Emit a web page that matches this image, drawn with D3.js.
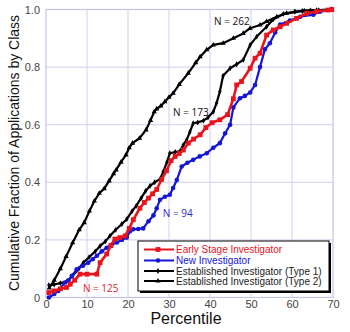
<!DOCTYPE html>
<html><head><meta charset="utf-8">
<script src="https://cdn.jsdelivr.net/npm/d3@7"></script>
<style>body{margin:0;background:#fff}svg{display:block}</style>
</head><body>
<svg id="c" width="350" height="332"></svg>
<script>
const xTicks = [0,10,20,30,40,50,60,70];
const yTicks = [0,0.2,0.4,0.6,0.8,1.0];
const seriesNames = ["Early Stage Investigator","New Investigator","Established Investigator (Type 1)","Established Investigator (Type 2)"];
const seriesN = ["N = 125","N = 94","N = 173","N = 262"];
const esi = [[0.7,0.017],[2,0.023],[3.5,0.03],[5,0.035],[5.9,0.046],[7,0.06],[8.3,0.081],[10,0.081],[12.4,0.081],[13.2,0.121],[14.8,0.151],[15.8,0.18],[16.8,0.203],[18,0.208],[19.3,0.214],[20.3,0.24],[21.3,0.27],[22.9,0.31],[24,0.33],[25,0.345],[26,0.36],[27,0.375],[28.2,0.41],[29.4,0.44],[30.5,0.475],[31.5,0.49],[32.5,0.5],[33.5,0.512],[34.7,0.536],[36,0.55],[37.6,0.565],[39,0.59],[40.5,0.607],[42.4,0.617],[44.3,0.635],[45.7,0.69],[46.5,0.738],[47.7,0.75],[49.8,0.796],[51,0.831],[52.2,0.848],[53.8,0.911],[55.4,0.929],[57.1,0.94],[58.7,0.952],[61.1,0.969],[63.6,0.987],[66,0.993],[68.8,0.998],[69.7,1.0]];
const ni = [[0.7,0],[2,0.012],[3,0.023],[4.6,0.052],[5.5,0.06],[6.3,0.075],[7.5,0.098],[9,0.11],[10.3,0.121],[11.4,0.133],[12.4,0.145],[13.6,0.16],[14.8,0.173],[16,0.183],[17.3,0.191],[18.5,0.2],[19.7,0.208],[20.5,0.23],[21.3,0.237],[22.5,0.238],[23.7,0.24],[25,0.265],[26.2,0.285],[27,0.31],[27.8,0.339],[29,0.35],[30.2,0.357],[31,0.38],[31.9,0.408],[33.1,0.455],[34.5,0.468],[35.9,0.478],[37.5,0.49],[39.2,0.501],[40.8,0.52],[42.4,0.536],[43.7,0.57],[44.9,0.6],[45.7,0.66],[47.3,0.692],[48.5,0.7],[49.8,0.712],[51,0.738],[52.2,0.80],[53.4,0.862],[54.6,0.883],[55.9,0.92],[57.1,0.948],[59.5,0.962],[62,0.975],[65.2,0.982],[66.8,0.992],[69.7,1.0]];
const ei1 = [[0.7,0.043],[2,0.045],[3.5,0.05],[5,0.055],[6.5,0.075],[8,0.1],[9.1,0.121],[10.5,0.14],[12,0.16],[13.2,0.179],[14.5,0.195],[15.6,0.214],[17,0.235],[18.5,0.255],[19.7,0.272],[21,0.3],[22,0.318],[23.2,0.345],[24.3,0.37],[25.4,0.388],[26.5,0.4],[27.8,0.411],[28.6,0.437],[29.5,0.47],[30.2,0.501],[31.5,0.505],[32.7,0.508],[33.5,0.53],[34.3,0.547],[35.1,0.575],[35.9,0.605],[37,0.608],[38.4,0.614],[39.5,0.625],[40.8,0.645],[41.6,0.675],[42.4,0.715],[43.2,0.77],[44.9,0.796],[46.5,0.81],[48.1,0.825],[49.8,0.877],[51.4,0.906],[53.8,0.94],[55.4,0.965],[57.9,0.985],[60.7,0.992],[62.5,0.995],[64.5,0.997],[66.5,0.998],[69.7,1.0]];
const ei2 = [[0.8,0.033],[2,0.06],[3.5,0.1],[4.9,0.142],[6.5,0.19],[8.1,0.235],[9.3,0.26],[10.6,0.30],[11.8,0.335],[13,0.362],[14.2,0.378],[15.4,0.405],[16.5,0.43],[17.1,0.443],[18.3,0.47],[19.5,0.495],[20.3,0.52],[21.1,0.536],[22.8,0.553],[24.4,0.582],[25.5,0.615],[26.4,0.645],[27,0.655],[28,0.665],[29,0.68],[30,0.695],[31,0.709],[32.5,0.74],[34.7,0.779],[36.5,0.815],[37.6,0.836],[39.2,0.86],[40.8,0.877],[43.2,0.883],[45.7,0.9],[48.1,0.917],[49.8,0.935],[52.2,0.946],[53.8,0.958],[56.3,0.975],[58.7,0.987],[60.7,0.992],[63,0.995],[66,0.997],[69.7,1.0]];

const svg = d3.select("#c");
const x = d3.scaleLinear().domain([0,70]).range([46,333]);
const y = d3.scaleLinear().domain([0,1]).range([297.5,9.5]);
const gridCol = "#cfcff0";

// grid
svg.append("g").selectAll("line").data(xTicks.slice(1,-1)).join("line")
  .attr("x1",d=>x(d)).attr("x2",d=>x(d)).attr("y1",y(0)).attr("y2",y(1))
  .attr("stroke",gridCol).attr("stroke-width",1);
svg.append("g").selectAll("line").data(yTicks.slice(1,-1)).join("line")
  .attr("y1",d=>y(d)).attr("y2",d=>y(d)).attr("x1",x(0)).attr("x2",x(70))
  .attr("stroke",gridCol).attr("stroke-width",1);
svg.append("rect").attr("x",x(0)).attr("y",y(1)).attr("width",x(70)-x(0)).attr("height",y(0)-y(1))
  .attr("fill","none").attr("stroke","#c4c4ec").attr("stroke-width",1.2);

// axes via d3 axis (labels only)
const xAxis = svg.append("g").attr("transform",`translate(0,${y(0)})`)
  .call(d3.axisBottom(x).tickValues(xTicks).tickSize(0).tickPadding(3).tickFormat(d3.format("d")));
const yAxis = svg.append("g").attr("transform",`translate(${x(0)},0)`)
  .call(d3.axisLeft(y).tickValues(yTicks).tickSize(0).tickPadding(6).tickFormat(d=>d===0?"0":d3.format(".1f")(d)));
[xAxis,yAxis].forEach(a=>{a.select(".domain").remove();
  a.selectAll("text").attr("font-family","Liberation Sans, Arial, sans-serif").attr("font-size","11px").attr("fill","#444");});

svg.append("text").attr("x",186).attr("y",324).attr("text-anchor","middle")
  .attr("font-family","Liberation Sans, Arial, sans-serif").attr("font-size","16px").attr("fill","#111").text("Percentile");
svg.append("text").attr("transform",`translate(19,153) rotate(-90)`).attr("text-anchor","middle")
  .attr("font-family","Liberation Sans, Arial, sans-serif").attr("font-size","14px").attr("fill","#111")
  .text("Cumulative Fraction of Applications by Class");

const line = d3.line().x(d=>x(d[0])).y(d=>y(d[1]));
const series = [
  {data:ei2, color:"#000", w:2.2, marker:"tri"},
  {data:ei1, color:"#000", w:2.2, marker:"dia"},
  {data:ni, color:"#1515d8", w:2.2, marker:"circ"},
  {data:esi, color:"#e8141c", w:2.6, marker:"sq"}
];
function drawMarker(g, type, color){
  if(type==="sq") g.append("rect").attr("x",-2.4).attr("y",-2.4).attr("width",4.8).attr("height",4.8).attr("fill",color);
  else if(type==="circ") g.append("circle").attr("r",2.3).attr("fill",color);
  else if(type==="dia") g.append("path").attr("d",d3.symbol(d3.symbolDiamond,10)()).attr("fill",color);
  else g.append("path").attr("d",d3.symbol(d3.symbolTriangle,12)()).attr("fill",color);
}
series.forEach(s=>{
  svg.append("path").datum(s.data).attr("d",line).attr("fill","none")
    .attr("stroke",s.color).attr("stroke-width",s.w).attr("stroke-linejoin","round");
  const g = svg.append("g");
  s.data.forEach(d=>{
    const m = g.append("g").attr("transform",`translate(${x(d[0])},${y(d[1])})`);
    drawMarker(m,s.marker,s.color);
  });
});

// N labels
const nFont = "Open Sans, Lato, sans-serif";
const nLabels = [
  {t:seriesN[0], px:9, py:0.02, c:"#e0232a"},
  {t:seriesN[1], px:28.5, py:0.28, c:"#2a2ad0"},
  {t:seriesN[2], px:31, py:0.63, c:"#111"},
  {t:seriesN[3], px:41, py:0.946, c:"#111"}
];
nLabels.forEach(l=>svg.append("text").attr("x",x(l.px)).attr("y",y(l.py)).attr("font-family",nFont)
  .attr("font-size","10px").attr("fill",l.c).text(l.t));

// legend
const lg = svg.append("g");
lg.append("rect").attr("x",140).attr("y",243).attr("width",191).attr("height",50).attr("fill","#000");
lg.append("rect").attr("x",138).attr("y",241).attr("width",191).attr("height",50).attr("fill","#fff").attr("stroke","#000").attr("stroke-width",1);
const legSeries = [
  {name:seriesNames[0], color:"#e8141c", marker:"sq", tc:"#e8141c"},
  {name:seriesNames[1], color:"#1515d8", marker:"circ", tc:"#1515d8"},
  {name:seriesNames[2], color:"#000", marker:"dia", tc:"#222"},
  {name:seriesNames[3], color:"#000", marker:"tri", tc:"#222"}
];
const rowY = [249.5, 260.5, 271, 281];
legSeries.forEach((s,i)=>{
  lg.append("line").attr("x1",144).attr("x2",174).attr("y1",rowY[i]).attr("y2",rowY[i]).attr("stroke",s.color).attr("stroke-width",2);
  const m = lg.append("g").attr("transform",`translate(158,${rowY[i]})`);
  drawMarker(m,s.marker,s.color);
  lg.append("text").attr("x",176).attr("y",rowY[i]+3.6).attr("font-family","Liberation Sans, Arial, sans-serif")
    .attr("font-size","10px").attr("fill",s.tc).text(s.name);
});
</script>
</body></html>
